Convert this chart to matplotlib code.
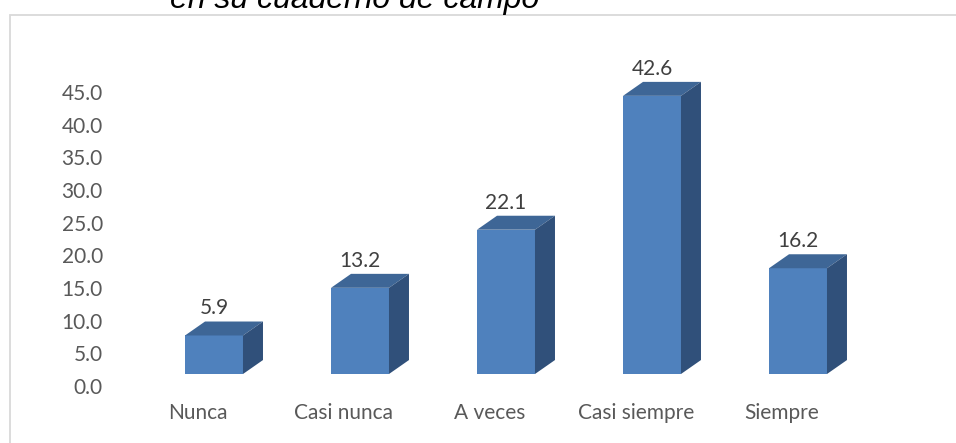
import matplotlib.pyplot as plt
from matplotlib.patches import Polygon, Rectangle

categories = ['Nunca', 'Casi nunca', 'A veces', 'Casi siempre', 'Siempre']
values = [5.9, 13.2, 22.1, 42.6, 16.2]
yticks = [0, 5, 10, 15, 20, 25, 30, 35, 40, 45]

front_col = '#4F81BD'
top_col = '#3E6696'
side_col = '#30507A'
text_col = '#595959'

# fake 3d look: base offset, bar width, depth offsets (data units)
base = 1.84
w = 0.397
dx = 0.137
dy = 2.14

fig = plt.figure(figsize=(9.56, 4.43), dpi=100)
ax = fig.add_axes([0.11695, 0.0844, 0.8705, 0.7517])
ax.set_xlim(-0.7, 5.0)
ax.set_ylim(-3, 48)

for i, v in enumerate(values):
    x0 = i - w / 2
    x1 = i + w / 2
    top = base + v
    ax.add_patch(Rectangle((x0, base), w, v, facecolor=front_col, edgecolor='none'))
    ax.add_patch(Polygon([(x0, top), (x1, top), (x1 + dx, top + dy), (x0 + dx, top + dy)],
                         closed=True, facecolor=top_col, edgecolor='none'))
    ax.add_patch(Polygon([(x1, base), (x1 + dx, base + dy), (x1 + dx, top + dy), (x1, top)],
                         closed=True, facecolor=side_col, edgecolor='none'))
    ax.annotate('%.1f' % v, (i, top + dy), xytext=(0, 9.4), textcoords='offset points',
                ha='center', va='center', fontsize=15, family='Lato', color='#404040')
    ax.text(i - 0.11, -4.13, categories[i], ha='center', va='center', fontsize=15,
            family='Lato', color=text_col, clip_on=False)

ax.set_yticks(yticks)
ax.set_yticklabels(['%.1f' % t for t in yticks], fontsize=15, family='Lato', color=text_col)
ax.tick_params(axis='y', length=0, pad=6.5)
ax.set_xticks([])
for s in ax.spines.values():
    s.set_visible(False)
ax.patch.set_visible(False)

# chart frame (top/left only visible in the crop)
fig.patches.append(Rectangle((10 / 956, -0.1), 1.1, (428 / 443) + 0.1, transform=fig.transFigure,
                             fill=False, edgecolor='#d9d9d9', lw=1.3))

fig.text(170 / 956, (443 - 8) / 443, 'en su cuaderno de campo', ha='left', va='baseline',
         fontsize=23, style='italic', family='Liberation Sans', color='black')

fig.savefig('out.png', dpi=100)
